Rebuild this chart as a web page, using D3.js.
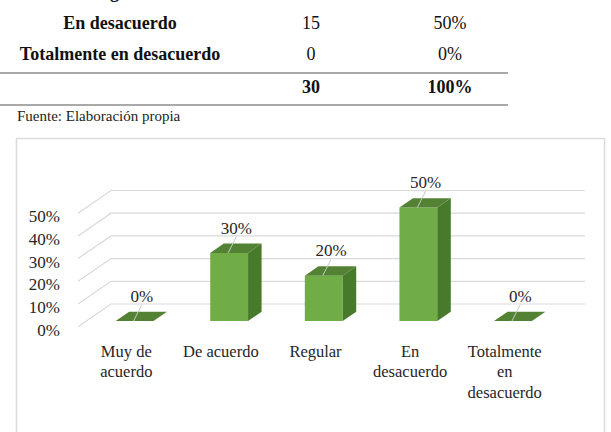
<!DOCTYPE html>
<html>
<head>
<meta charset="utf-8">
<script src="https://cdn.jsdelivr.net/npm/d3@7"></script>
<style>
  html, body { margin: 0; padding: 0; background: #fff; }
  svg { display: block; }
  svg text { font-family: "Liberation Serif", "Times New Roman", Times, serif; }
</style>
</head>
<body>
<svg id="chart" width="611" height="432"></svg>
<script>
// table fragment above the chart
const rowNames = ["Regular", "En desacuerdo", "Totalmente en desacuerdo"];
const rowCounts = ["", "15", "0"];
const rowPercents = ["", "50%", "0%"];
const totalCount = "30";
const totalPercent = "100%";
const sourceNote = "Fuente: Elaboración propia";

// chart data
const categories = ["Muy de acuerdo", "De acuerdo", "Regular", "En desacuerdo", "Totalmente en desacuerdo"];
const categoryLines = [["Muy de", "acuerdo"], ["De acuerdo"], ["Regular"], ["En", "desacuerdo"], ["Totalmente", "en", "desacuerdo"]];
const values = [0, 0.30, 0.20, 0.50, 0];
const yTicks = [0, 0.1, 0.2, 0.3, 0.4, 0.5];

const svg = d3.select("#chart");
const pct = d3.format(".0%");

// --- table ---
const rowBase = [-2, 29, 60];
const colName = 120, colCount = 311, colPct = 450;
rowNames.forEach((n, i) => {
    svg.append("text").attr("x", colName).attr("y", rowBase[i]).attr("text-anchor", "middle")
        .attr("font-size", 18).attr("font-weight", "bold").attr("fill", "#111").text(n);
    if (rowCounts[i]) {
        svg.append("text").attr("x", colCount).attr("y", rowBase[i]).attr("text-anchor", "middle")
            .attr("font-size", 18).attr("fill", "#111").text(rowCounts[i]);
        svg.append("text").attr("x", colPct).attr("y", rowBase[i]).attr("text-anchor", "middle")
            .attr("font-size", 18).attr("fill", "#111").text(rowPercents[i]);
    }
});
svg.append("line").attr("x1", 0).attr("x2", 508).attr("y1", 73).attr("y2", 73)
    .attr("stroke", "#8c8c8c").attr("stroke-width", 1.5);
svg.append("text").attr("x", colCount).attr("y", 93).attr("text-anchor", "middle")
    .attr("font-size", 18).attr("font-weight", "bold").attr("fill", "#111").text(totalCount);
svg.append("text").attr("x", colPct).attr("y", 93).attr("text-anchor", "middle")
    .attr("font-size", 18).attr("font-weight", "bold").attr("fill", "#111").text(totalPercent);
svg.append("line").attr("x1", 0).attr("x2", 508).attr("y1", 105).attr("y2", 105)
    .attr("stroke", "#8c8c8c").attr("stroke-width", 1.5);
svg.append("text").attr("x", 17).attr("y", 121).attr("font-size", 15).attr("fill", "#222").text(sourceNote);

// --- chart box ---
svg.append("rect").attr("x", 16.5).attr("y", 138.5).attr("width", 588).attr("height", 400)
    .attr("fill", "#fff").attr("stroke", "#dcdcdc").attr("stroke-width", 1.5);

// oblique 3D projection
const depth = { x: 33, y: -22.7 };
const x = d3.scaleBand().domain(categories).range([79, 552]).paddingInner(0.6).paddingOuter(0.3);
const y = d3.scaleLinear().domain([0, 0.5]).range([326.7, 213.2]);
const P = (px, v, f) => [px + f * depth.x, y(v) + f * depth.y];
const f1 = 0.25, f2 = 0.66;
const wallLeft = 78, wallRight = 552;

// grid: left wall diagonals + back wall lines
const grid = svg.append("g").attr("stroke", "#d9d9d9").attr("stroke-width", 1.2).attr("fill", "none");
yTicks.forEach(t => {
    const a = P(wallLeft, t, 0), b = P(wallLeft, t, 1), c = P(wallRight, t, 1);
    grid.append("path").attr("d", d3.line()([a, b, c]));
});

// y labels
svg.append("g").selectAll("text").data(yTicks).join("text")
    .attr("x", 60).attr("y", d => y(d) + 3).attr("dy", "0.35em")
    .attr("text-anchor", "end").attr("font-size", 17).attr("fill", "#262626")
    .text(d => pct(d));

// bars
const bars = svg.append("g");
categories.forEach((c, i) => {
    const v = values[i];
    const xl = x(c), xr = x(c) + x.bandwidth();
    const g = bars.append("g");
    if (v > 0) {
        g.append("polygon").attr("fill", "#70ad47")
            .attr("points", [P(xl, 0, f1), P(xr, 0, f1), P(xr, v, f1), P(xl, v, f1)].join(" "));
        g.append("polygon").attr("fill", "#477a2b")
            .attr("points", [P(xr, 0, f1), P(xr, 0, f2), P(xr, v, f2), P(xr, v, f1)].join(" "));
    }
    g.append("polygon").attr("fill", "#548235")
        .attr("points", [P(xl, v, f1), P(xr, v, f1), P(xr, v, f2), P(xl, v, f2)].join(" "));

    // data label with leader line
    const mid = (xl + xr) / 2;
    const top = P(mid, v, f2);
    const front = P(mid, v, f1);
    const lx = (mid + f1 * depth.x + mid + f2 * depth.x) / 2 + 0.5;
    const ly = top[1] - 16;
    svg.append("line").attr("x1", lx).attr("y1", ly + 9).attr("x2", front[0] - 1).attr("y2", front[1])
        .attr("stroke", "#c8c8c8").attr("stroke-width", 1);
    svg.append("text").attr("x", lx).attr("y", ly).attr("dy", "0.35em")
        .attr("text-anchor", "middle").attr("font-size", 17).attr("fill", "#262626")
        .text(pct(v));
});

// category labels
const cat = svg.append("g");
categories.forEach((c, i) => {
    const t = cat.append("text").attr("text-anchor", "middle").attr("font-size", 16.5).attr("fill", "#262626");
    categoryLines[i].forEach((line, j) => {
        t.append("tspan").attr("x", x(c) + x.bandwidth() / 2).attr("y", 356.5 + j * 20.6).text(line);
    });
});
</script>
</body>
</html>
